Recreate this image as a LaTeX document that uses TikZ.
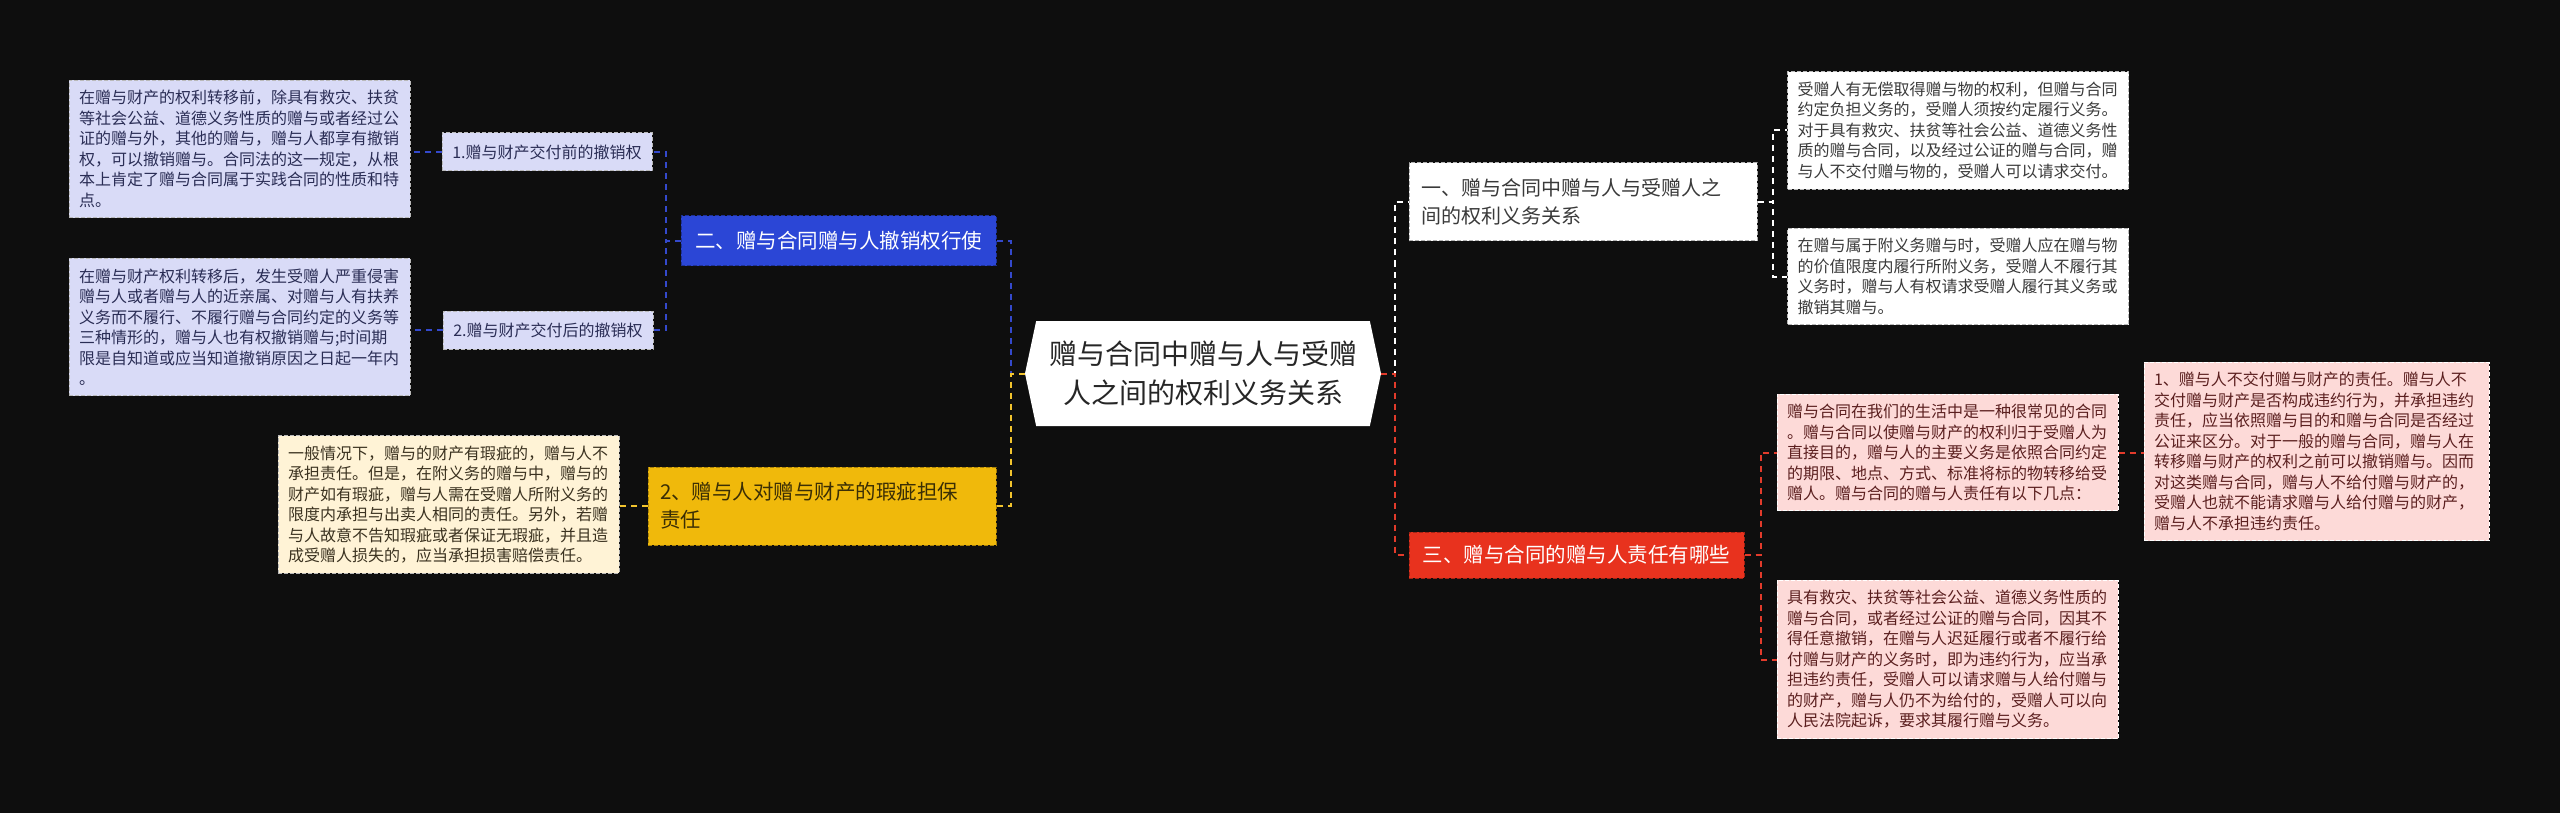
\documentclass[tikz,border=0pt]{standalone}
\usepackage{fontspec}
\setmainfont{Noto Sans CJK SC}
\usetikzlibrary{calc, shapes.symbols}
\definecolor{bgdark}{HTML}{0E0E0E}
\definecolor{lavfill}{HTML}{D9DBF7}
\definecolor{lavtext}{HTML}{2A2D55}
\definecolor{royal}{HTML}{2B46D6}
\definecolor{royalline}{HTML}{3449CC}
\definecolor{amber}{HTML}{F0B90B}
\definecolor{amberline}{HTML}{F2C42E}
\definecolor{amberdark}{HTML}{3A2E05}
\definecolor{creamfill}{HTML}{FFF3D6}
\definecolor{creamtext}{HTML}{3B3220}
\definecolor{vermil}{HTML}{E8321E}
\definecolor{redline}{HTML}{E23B2B}
\definecolor{pinkfill}{HTML}{FDDAD8}
\definecolor{pinktext}{HTML}{5B1F1F}
\definecolor{inkgray}{HTML}{3A3A3A}

\tikzset{
  note/.style={fill=#1, draw=gray!55, line width=1pt, dash pattern=on 4pt off 2pt,
    align=left, text width=321pt, inner xsep=10pt, inner ysep=10pt,
    font=\fontsize{16}{20.5}\selectfont},
  leaf/.style={fill=lavfill, draw=gray!55, line width=1pt, dash pattern=on 4pt off 2pt,
    text=lavtext, minimum width=210pt, minimum height=38pt, inner sep=4pt,
    font=\fontsize{16}{20}\selectfont},
  branch/.style={fill=#1, line width=1pt, dash pattern=on 4pt off 2pt,
    inner xsep=12pt, inner ysep=6pt, font=\fontsize{20.5}{28}\selectfont},
  wire/.style={draw=#1, line width=2pt, dash pattern=on 6pt off 5pt}
}

\begin{document}
\begin{tikzpicture}[x=1pt, y=-1pt]

% Canvas
\fill[bgdark] (0,0) rectangle (2560,813);
\useasboundingbox (0,0) rectangle (2560,813);

% Root
\node[signal, signal to=west and east, signal pointer angle=156, fill=white,
  minimum width=356pt, minimum height=105pt, inner sep=0pt, align=center,
  text=black!85, font=\fontsize{28}{39}\selectfont] (root) at (1203,373.5)
  {赠与合同中赠与人与受赠\\人之间的权利义务关系};

% Left branches
\node[branch=royal, draw=royal!70!black, text=white, minimum width=315pt, minimum height=50pt]
  (revoke) at (838.5,241) {二、赠与合同赠与人撤销权行使};
\node[branch=amber, draw=amber!70!black, text=amberdark, align=left, text width=324pt,
  minimum height=78pt] (flaw) at (822,506) {2、赠与人对赠与财产的瑕疵担保\\责任};

\node[leaf] (rev1) at (547,152) {1.赠与财产交付前的撤销权};
\node[leaf] (rev2) at (548,330) {2.赠与财产交付后的撤销权};

\node[note=lavfill, text=lavtext] (lav1) at (239.5,149) {在赠与财产的权利转移前，除具有救灾、扶贫\\等社会公益、道德义务性质的赠与或者经过公\\证的赠与外，其他的赠与，赠与人都享有撤销\\权，可以撤销赠与。合同法的这一规定，从根\\本上肯定了赠与合同属于实践合同的性质和特\\点。};
\node[note=lavfill, text=lavtext] (lav2) at (239.5,327) {在赠与财产权利转移后，发生受赠人严重侵害\\赠与人或者赠与人的近亲属、对赠与人有扶养\\义务而不履行、不履行赠与合同约定的义务等\\三种情形的，赠与人也有权撤销赠与;时间期\\限是自知道或应当知道撤销原因之日起一年内\\。};
\node[note=creamfill, text=creamtext] (cream) at (448.5,504.5) {一般情况下，赠与的财产有瑕疵的，赠与人不\\承担责任。但是，在附义务的赠与中，赠与的\\财产如有瑕疵，赠与人需在受赠人所附义务的\\限度内承担与出卖人相同的责任。另外，若赠\\与人故意不告知瑕疵或者保证无瑕疵，并且造\\成受赠人损失的，应当承担损害赔偿责任。};

% Right branches
\node[branch=white, draw=gray!60, text=inkgray, align=left, text width=324pt,
  minimum height=78pt, font=\fontsize{20}{28}\selectfont] (rights) at (1583,202)
  {一、赠与合同中赠与人与受赠人之\\间的权利义务关系};
\node[branch=vermil, draw=vermil!70!black, text=white, minimum width=335pt, minimum height=46pt]
  (duty) at (1576.5,555) {三、赠与合同的赠与人责任有哪些};

\node[note=white, text=inkgray] (wb1) at (1958,130.5) {受赠人有无偿取得赠与物的权利，但赠与合同\\约定负担义务的，受赠人须按约定履行义务。\\对于具有救灾、扶贫等社会公益、道德义务性\\质的赠与合同，以及经过公证的赠与合同，赠\\与人不交付赠与物的，受赠人可以请求交付。};
\node[note=white, text=inkgray] (wb2) at (1958,276.5) {在赠与属于附义务赠与时，受赠人应在赠与物\\的价值限度内履行所附义务，受赠人不履行其\\义务时，赠与人有权请求受赠人履行其义务或\\撤销其赠与。};

\node[note=pinkfill, text=pinktext, draw=white!80] (pk1) at (1947.5,452.5) {赠与合同在我们的生活中是一种很常见的合同\\。赠与合同以使赠与财产的权利归于受赠人为\\直接目的，赠与人的主要义务是依照合同约定\\的期限、地点、方式、标准将标的物转移给受\\赠人。赠与合同的赠与人责任有以下几点：};
\node[note=pinkfill, text=pinktext, draw=white!80, text width=325pt] (pk2) at (2316.5,451.5) {1、赠与人不交付赠与财产的责任。赠与人不\\交付赠与财产是否构成违约行为，并承担违约\\责任，应当依照赠与目的和赠与合同是否经过\\公证来区分。对于一般的赠与合同，赠与人在\\转移赠与财产的权利之前可以撤销赠与。因而\\对这类赠与合同，赠与人不给付赠与财产的，\\受赠人也就不能请求赠与人给付赠与的财产，\\赠与人不承担违约责任。};
\node[note=pinkfill, text=pinktext, draw=white!80] (pk3) at (1947.5,659.5) {具有救灾、扶贫等社会公益、道德义务性质的\\赠与合同，或者经过公证的赠与合同，因其不\\得任意撤销，在赠与人迟延履行或者不履行给\\付赠与财产的义务时，即为违约行为，应当承\\担违约责任，受赠人可以请求赠与人给付赠与\\的财产，赠与人仍不为给付的，受赠人可以向\\人民法院起诉，要求其履行赠与义务。};

% Connectors, left
\draw[wire=royalline] (root.west) -- ++(-14,0) |- (revoke.east);
\draw[wire=amberline] (root.west) -- ++(-14,0) |- (flaw.east);
\foreach \c in {rev1, rev2}
  \draw[wire=royalline] (revoke.west) -- ++(-15,0) |- (\c.east);
\draw[wire=royalline] (rev1.west) -- (rev1.west -| lav1.east);
\draw[wire=royalline] (rev2.west) -- (rev2.west -| lav2.east);
\draw[wire=amberline] (flaw.west) -- (flaw.west -| cream.east);

% Connectors, right
\draw[wire=white] (root.east) -- ++(14,0) |- (rights.west);
\draw[wire=redline] (root.east) -- ++(14,0) |- (duty.west);
\foreach \c in {wb1, wb2}
  \draw[wire=white] (rights.east) -- ++(15,0) |- (\c.west);
\foreach \c in {pk1, pk3}
  \draw[wire=redline] (duty.east) -- ++(16,0) |- (\c.west);
\draw[wire=redline] (pk1.east) -- (pk1.east -| pk2.west);

\end{tikzpicture}
\end{document}
